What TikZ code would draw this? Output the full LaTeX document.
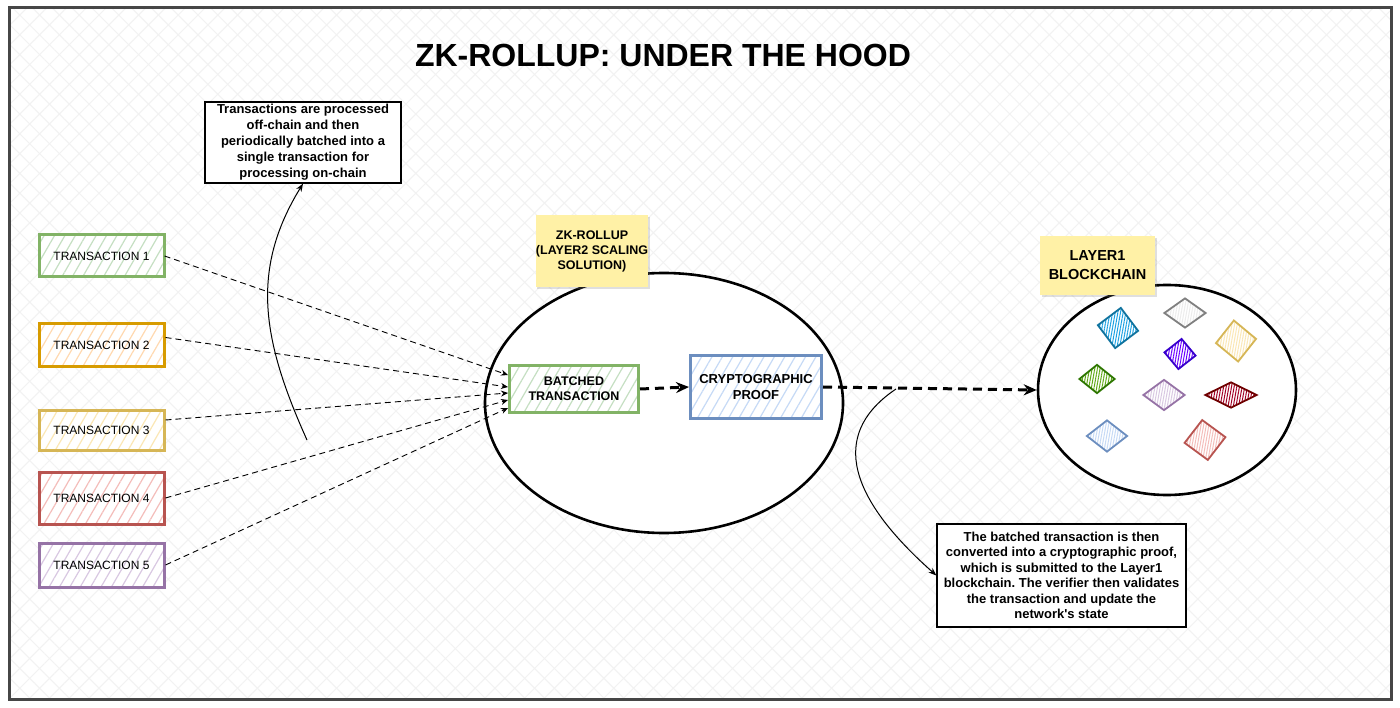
\documentclass[tikz,border=0pt]{standalone}
\usepackage{fontspec}
\setmainfont{Liberation Sans}
\usetikzlibrary{shapes.geometric,patterns.meta,arrows.meta,shadows}
\frenchspacing

% Colores
\definecolor{verde}{HTML}{82B366}   \definecolor{verdeC}{HTML}{C5DFC2}
\definecolor{naranja}{HTML}{D79B00} \definecolor{naranjaC}{HTML}{FFD9B0}
\definecolor{oro}{HTML}{D6B656}     \definecolor{oroC}{HTML}{FBE7B5}
\definecolor{rojo}{HTML}{B85450}    \definecolor{rojoC}{HTML}{F4BDBA}
\definecolor{morado}{HTML}{9673A6}  \definecolor{moradoC}{HTML}{D9C8E2}
\definecolor{azul}{HTML}{6C8EBF}    \definecolor{azulC}{HTML}{C6DAF6}
\definecolor{amarillo}{HTML}{FFF1A6}
\definecolor{cian}{HTML}{10739E}    \definecolor{cianC}{HTML}{1BA1E2}
\definecolor{violeta}{HTML}{3700CC} \definecolor{violetaC}{HTML}{6A00FF}
\definecolor{lima}{HTML}{2D7600}    \definecolor{limaC}{HTML}{60A917}
\definecolor{granate}{HTML}{6F0000} \definecolor{granateC}{HTML}{A20025}

\begin{document}
\begin{tikzpicture}[x=1pt, y=-1pt,
    trans/.style 2 args={draw=#1, line width=3pt, preaction={fill=white},
      pattern={Lines[angle=60,distance=9pt,line width=1.2pt]}, pattern color=#2,
      minimum width=125pt, inner sep=0pt, font=\fontsize{12}{14}\selectfont},
    caja/.style 2 args={trans={#1}{#2}, align=center, font=\bfseries\fontsize{12.5}{15}\selectfont},
    nota/.style={draw=black, line width=1.2pt, fill=white, align=center, inner sep=0pt,
      font=\bfseries\fontsize{13}{16}\selectfont},
    postit/.style={fill=amarillo, align=center, inner sep=0pt,
      drop shadow={shadow xshift=1.5pt, shadow yshift=-2.5pt, opacity=0.25},
      font=\bfseries\fontsize{12.5}{15}\selectfont},
    elipse/.style={ellipse, draw=black, line width=2.6pt, fill=white, inner sep=0pt},
    rombo/.style 2 args={diamond, draw=#1, line width=1.8pt, inner sep=0pt, preaction={fill=white},
      pattern={Lines[angle=80,distance=2.6pt,line width=1pt]}, pattern color=#2},
    conector/.style={line width=0.9pt, dash pattern=on 6pt off 4pt, -{Stealth[length=7pt,width=6pt]}},
    gruesa/.style={line width=3pt, dash pattern=on 9pt off 6pt, -{Stealth[length=13pt,width=11pt]}},
    curva/.style={line width=1pt, -{Stealth[length=8pt,width=6pt]}}
  ]

  \useasboundingbox (0,0) rectangle (1400,708);

  % Fondo y marco
  \fill[white] (0,0) rectangle (1400,708);
  \fill[pattern={Lines[angle=45,distance=14pt,line width=1pt]}, pattern color=gray!10] (9,8) rectangle (1391,699);
  \fill[pattern={Lines[angle=-45,distance=14pt,line width=1pt]}, pattern color=gray!10] (9,8) rectangle (1391,699);
  \draw[gray!55!black, line width=3pt] (9,8) rectangle (1391,699);

  % Titulo
  \node[font=\bfseries\fontsize{32}{38}\selectfont] (titulo) at (663,55) {ZK-ROLLUP: UNDER THE HOOD};

  % Transacciones
  \node[trans={verde}{verdeC}, minimum height=42pt] (t1) at (101.5,256) {TRANSACTION 1};
  \node[trans={naranja}{naranjaC}, minimum height=43pt] (t2) at (101.5,345.5) {TRANSACTION 2};
  \node[trans={oro}{oroC}, minimum height=40pt] (t3) at (101.5,430) {TRANSACTION 3};
  \node[trans={rojo}{rojoC}, minimum height=52pt] (t4) at (101.5,498) {TRANSACTION 4};
  \node[trans={morado}{moradoC}, minimum height=44pt] (t5) at (101.5,565) {TRANSACTION 5};

  % Elipses
  \node[elipse, minimum width=358pt, minimum height=260pt] (rollup) at (664,403) {};
  \node[elipse, minimum width=258pt, minimum height=210pt] (chain) at (1167,390) {};

  % Notas adhesivas
  \node[postit, minimum width=111pt, minimum height=72pt] (notaZK) at (592,251)
    {ZK-ROLLUP\\(LAYER2 SCALING\\SOLUTION)};
  \node[postit, minimum width=115pt, minimum height=59pt, font=\bfseries\fontsize{14.5}{19}\selectfont]
    (notaL1) at (1097.5,265.5) {LAYER1\\BLOCKCHAIN};

  % Cajas dentro del rollup
  \node[caja={verde}{verdeC}, minimum width=129pt, minimum height=46pt] (batch) at (574,389)
    {BATCHED\\TRANSACTION};
  \node[caja={azul}{azulC}, minimum width=131pt, minimum height=62pt,
    font=\bfseries\fontsize{13}{16}\selectfont] (proof) at (756,387) {CRYPTOGRAPHIC\\PROOF};

  % Bloques de la cadena
  \node[rombo={cian}{cianC}, minimum width=41pt, minimum height=41pt, rotate=-8] (b1) at (1118,328) {};
  \node[rombo={gray}{gray!15}, minimum width=42pt, minimum height=30pt] (b2) at (1185,313) {};
  \node[rombo={oro}{oroC}, minimum width=41pt, minimum height=42pt, rotate=6] (b3) at (1236,341) {};
  \node[rombo={violeta}{violetaC}, minimum width=32pt, minimum height=31pt, rotate=-6] (b4) at (1180,354) {};
  \node[rombo={lima}{limaC}, minimum width=36pt, minimum height=29pt] (b5) at (1097,379) {};
  \node[rombo={morado}{moradoC}, minimum width=42pt, minimum height=31pt] (b6) at (1164,395) {};
  \node[rombo={granate}{granateC}, minimum width=52pt, minimum height=26pt] (b7) at (1231,395) {};
  \node[rombo={azul}{azulC}, minimum width=41pt, minimum height=32pt] (b8) at (1107,436) {};
  \node[rombo={rojo}{rojoC}, minimum width=42pt, minimum height=41pt, rotate=8] (b9) at (1205,440) {};

  % Notas explicativas
  \node[nota, minimum width=196pt, minimum height=81pt] (note1) at (303,142.5)
    {Transactions are processed\\off-chain and then\\periodically batched into a\\single transaction for\\processing on-chain};
  \node[nota, minimum width=249pt, minimum height=103pt, font=\bfseries\fontsize{13}{15.5}\selectfont]
    (note2) at (1061.5,575.5)
    {The batched transaction is then\\converted into a cryptographic proof,\\which is submitted to the Layer1\\blockchain. The verifier then validates\\the transaction and update the\\network\textquotesingle s state};

  % Conectores
  \draw[conector] (t1.east) -- ([yshift=14pt]batch.west);
  \draw[conector] ([yshift=8pt]t2.east) -- ([yshift=2pt]batch.west);
  \draw[conector] ([yshift=10pt]t3.east) -- ([yshift=-4pt]batch.west);
  \draw[conector] (t4.east) -- ([yshift=-11pt]batch.west);
  \draw[conector] (t5.east) -- ([yshift=-19pt]batch.west);

  \draw[gruesa] (batch.east) -- (proof.west);
  \draw[gruesa] (proof.east) -- (chain.west);

  % Flechas de las notas
  \coordinate (c1) at (307,440);
  \coordinate (c2) at (896,389);
  \draw[curva] (c1) .. controls (262,340) and (250,270) .. (note1.south);
  \draw[curva] (c2) .. controls (835,430) and (840,490) .. (note2.west);

\end{tikzpicture}
\end{document}
